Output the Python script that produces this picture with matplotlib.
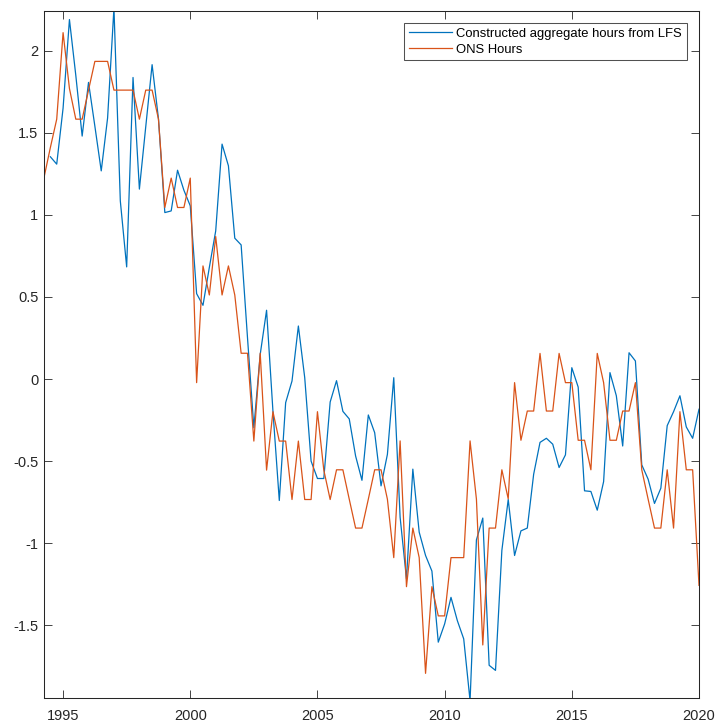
import numpy as np
import matplotlib
matplotlib.use("Agg")
import matplotlib.pyplot as plt

# ---- data (quarterly) ----
ons_start = 1994.25
ons_hours = [
    1.227, 1.41, 1.583,
    2.11, 1.77, 1.583, 1.583,
    1.76, 1.935, 1.935, 1.935,
    1.76, 1.76, 1.76, 1.76,
    1.583, 1.76, 1.76, 1.583,
    1.045, 1.224, 1.045, 1.045,
    1.224, -0.022, 0.689, 0.512,
    0.868, 0.512, 0.689, 0.512,
    0.157, 0.157, -0.378, 0.157,
    -0.555, -0.199, -0.378, -0.378,
    -0.734, -0.378, -0.734, -0.734,
    -0.199, -0.555, -0.734, -0.553,
    -0.553, -0.732, -0.908, -0.908,
    -0.732, -0.553, -0.553, -0.732,
    -1.088, -0.377, -1.265, -0.908,
    -1.088, -1.793, -1.265, -1.443,
    -1.443, -1.088, -1.088, -1.088,
    -0.377, -0.732, -1.62, -0.908,
    -0.908, -0.553, -0.73, -0.022,
    -0.373, -0.195, -0.195, 0.156,
    -0.195, -0.195, 0.156, -0.022,
    -0.022, -0.373, -0.373, -0.553,
    0.156, -0.022, -0.373, -0.373,
    -0.195, -0.195, -0.022, -0.553,
    -0.732, -0.908, -0.908, -0.553,
    -0.908, -0.199, -0.553, -0.553,
    -1.257,
]

lfs_start = 1994.5
lfs_hours = [
    1.354, 1.309,
    1.65, 2.19, 1.85, 1.48,
    1.807, 1.54, 1.268, 1.59,
    2.26, 1.085, 0.683, 1.837,
    1.157, 1.537, 1.915, 1.585,
    1.014, 1.024, 1.272, 1.15,
    1.055, 0.52, 0.449, 0.68,
    0.902, 1.431, 1.299, 0.858,
    0.817, 0.252, -0.297, 0.15,
    0.419, -0.195, -0.74, -0.144,
    -0.012, 0.323, 0.008, -0.5,
    -0.606, -0.606, -0.14, -0.01,
    -0.197, -0.243, -0.469, -0.617,
    -0.219, -0.327, -0.651, -0.459,
    0.008, -0.842, -1.218, -0.549,
    -0.933, -1.075, -1.17, -1.603,
    -1.492, -1.33, -1.472, -1.583,
    -1.96, -0.98, -0.847, -1.744,
    -1.775, -1.044, -0.734, -1.075,
    -0.925, -0.908, -0.58, -0.386,
    -0.361, -0.397, -0.539, -0.462,
    0.069, -0.049, -0.681, -0.685,
    -0.799, -0.625, 0.039, -0.102,
    -0.408, 0.16, 0.11, -0.523,
    -0.61, -0.758, -0.665, -0.284,
    -0.199, -0.102, -0.292, -0.361,
    -0.184,
]

series_labels = ["Constructed aggregate hours from LFS", "ONS Hours"]
x_ticks = [1995, 2000, 2005, 2010, 2015, 2020]
y_ticks = [-1.5, -1, -0.5, 0, 0.5, 1, 1.5, 2]

t_ons = ons_start + 0.25 * np.arange(len(ons_hours))
t_lfs = lfs_start + 0.25 * np.arange(len(lfs_hours))

plt.rcParams['font.family'] = ['Liberation Sans', 'DejaVu Sans']
axcol = '#262626'

fig = plt.figure(figsize=(7.18, 7.26), dpi=100)
ax = fig.add_axes([44 / 718, 1 - 698.3 / 726, (699 - 44) / 718, (698.3 - 10.5) / 726])

ax.plot(t_lfs, lfs_hours, color='#0072BD', lw=0.9, label=series_labels[0])
ax.plot(t_ons, ons_hours, color='#D95319', lw=0.9, label=series_labels[1])

ax.set_xlim(1994.25, 2020)
ax.set_ylim(-1.945, 2.245)
ax.set_xticks(x_ticks)
ax.set_xticklabels([str(v) for v in x_ticks])
ax.set_yticks(y_ticks)
ax.set_yticklabels([('%g' % v) for v in y_ticks])

ax.tick_params(direction='in', length=5.5, width=0.6, color=axcol,
               labelcolor=axcol, labelsize=10.5, top=True, right=True)
ax.tick_params(axis='x', pad=8)
ax.tick_params(axis='y', pad=4)
for s in ax.spines.values():
    s.set_color(axcol)
    s.set_linewidth(0.75)

leg = ax.legend(loc='upper right', fontsize=9.4, frameon=True, fancybox=False,
                edgecolor=axcol, handlelength=3.3, handletextpad=0.33,
                labelspacing=0.3, borderpad=0.35, borderaxespad=0.95)
leg.get_frame().set_linewidth(0.75)
for t in leg.get_texts():
    t.set_color('black')

fig.savefig('out.png', dpi=100)
